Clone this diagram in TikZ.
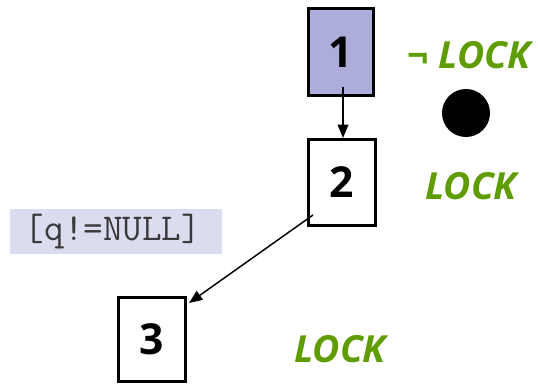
\documentclass[tikz,border=0pt]{standalone}
\usepackage{fontspec}
\setmainfont{Open Sans}
\usetikzlibrary{arrows.meta}
\definecolor{boxfill}{HTML}{ADADDB}
\definecolor{lockgreen}{HTML}{5E9C00}
\definecolor{labelbg}{HTML}{DCDCF0}
\definecolor{labeltext}{HTML}{3A3A3A}
\tikzset{
  numbox/.style={draw=black, line width=2.3pt, inner sep=0pt, font=\fontsize{32}{32}\selectfont\bfseries},
  lock/.style={text=lockgreen, font=\fontsize{28}{28}\selectfont\bfseries\itshape, inner sep=0pt},
  link/.style={line width=1.1pt, -{Triangle[length=10pt,width=8pt]}},
}
\begin{document}
\begin{tikzpicture}[x=0.75pt,y=-0.75pt]
\useasboundingbox (0,0) rectangle (538,386);
\node[numbox, fill=boxfill, minimum width=48.5pt, minimum height=65pt] (b1) at (341,52) {1};
\node[numbox, fill=white, minimum width=50pt, minimum height=64.5pt] (b2) at (342,182.5) {2};
\node[numbox, fill=white, minimum width=50pt, minimum height=63pt] (b3) at (152,339.5) {3};
\coordinate (s1) at (343,87);
\coordinate (s2) at (313,215);
\coordinate (t2) at (189,303);
\draw[link] (s1) -- (s1 |- b2.north);
\draw[link] (s2) -- (t2);
\node[lock] (l1) at (469,55) {{\upshape¬} LOCK};
\node[circle, fill=black, minimum size=36pt, inner sep=0pt] (dot) at (466,113) {};
\node[lock] (l2) at (471,186) {LOCK};
\node[lock] (l3) at (340,349) {LOCK};
\node[fill=labelbg, minimum width=159pt, minimum height=34pt, inner sep=0pt] (cond) at (116,231.5) {};
\node[text=labeltext, font=\ttfamily\fontsize{28.5}{28.5}\selectfont, inner sep=0pt] (condtext) at (113,232) {[q!=NULL]};
\end{tikzpicture}
\end{document}
